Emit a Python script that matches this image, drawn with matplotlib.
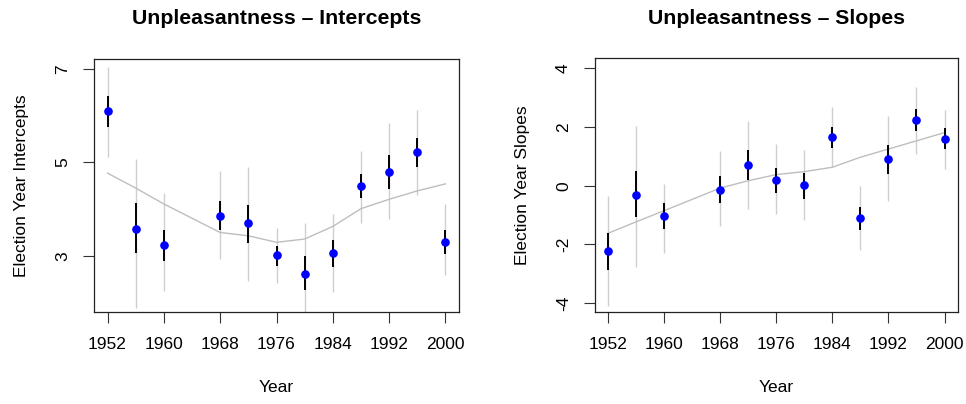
import matplotlib.pyplot as plt

plt.rcParams['font.family'] = ['Liberation Sans', 'DejaVu Sans']

years = [1952, 1956, 1960, 1968, 1972, 1976, 1980, 1984, 1988, 1992, 1996, 2000]
xticks = [1952, 1960, 1968, 1976, 1984, 1992, 2000]

# intercepts: estimate, inner interval, outer interval, smoothed trend
icpt = [6.10, 3.57, 3.24, 3.86, 3.71, 3.01, 2.61, 3.06, 4.50, 4.80, 5.22, 3.30]
icpt_in_lo = [5.75, 3.06, 2.89, 3.55, 3.28, 2.79, 2.26, 2.76, 4.23, 4.43, 4.90, 3.03]
icpt_in_hi = [6.42, 4.13, 3.56, 4.18, 4.09, 3.21, 2.99, 3.35, 4.76, 5.15, 5.53, 3.55]
icpt_out_lo = [5.12, 1.88, 2.24, 2.93, 2.46, 2.42, 1.79, 2.22, 3.71, 3.78, 4.30, 2.59]
icpt_out_hi = [7.04, 5.07, 4.35, 4.82, 4.90, 3.59, 3.70, 3.90, 5.24, 5.84, 6.12, 4.10]
icpt_trend = [4.77, 4.45, 4.11, 3.50, 3.43, 3.29, 3.36, 3.63, 4.01, 4.21, 4.39, 4.54]

# slopes
slope = [-2.22, -0.31, -1.04, -0.14, 0.69, 0.20, 0.01, 1.65, -1.11, 0.90, 2.25, 1.60]
slope_in_lo = [-2.87, -1.08, -1.48, -0.59, 0.20, -0.24, -0.45, 1.28, -1.51, 0.40, 1.87, 1.25]
slope_in_hi = [-1.60, 0.49, -0.60, 0.33, 1.22, 0.60, 0.44, 2.01, -0.72, 1.39, 2.61, 1.98]
slope_out_lo = [-4.10, -2.76, -2.30, -1.37, -0.79, -0.95, -1.16, 0.63, -2.19, -0.51, 1.07, 0.58]
slope_out_hi = [-0.35, 2.03, 0.06, 1.18, 2.19, 1.41, 1.21, 2.67, -0.01, 2.36, 3.35, 2.58]
slope_trend = [-1.62, -1.23, -0.85, -0.08, 0.17, 0.38, 0.48, 0.63, 0.97, 1.25, 1.53, 1.81]

W, H = 966, 404
fig = plt.figure(figsize=(W / 100, H / 100), dpi=100)


def panel(rect, est, in_lo, in_hi, out_lo, out_hi, trend, title, ylabel, yticks, ylim):
    ax = fig.add_axes(rect)
    ax.vlines(years, out_lo, out_hi, color='#cfcfcf', lw=1.0, zorder=1)
    ax.vlines(years, in_lo, in_hi, color='black', lw=1.4, zorder=2)
    ax.plot(years, trend, color='#bebebe', lw=1.0, zorder=1)
    ax.plot(years, est, 'o', color='#0000ff', ms=5.2, zorder=3)
    ax.set_xlim(1950.08, 2001.92)
    ax.set_ylim(*ylim)
    ax.set_xticks(xticks)
    ax.set_yticks(yticks)
    ax.set_yticklabels([str(t) for t in yticks], rotation=90, va='center')
    ax.tick_params(length=8, width=0.8, labelsize=12.5, color='#333333')
    ax.tick_params(axis='x', pad=10)
    ax.tick_params(axis='y', pad=9)
    for s in ax.spines.values():
        s.set_linewidth(0.9)
        s.set_color('#222222')
    ax.set_title(title, fontsize=15.3, fontweight='bold', pad=25)
    ax.set_xlabel('Year', fontsize=12.5, labelpad=20)
    ax.set_ylabel(ylabel, fontsize=12.5, labelpad=19)
    return ax


panel([94 / W, 1 - 312 / H, 365 / W, 253 / H], icpt, icpt_in_lo, icpt_in_hi,
      icpt_out_lo, icpt_out_hi, icpt_trend, 'Unpleasantness \u2013 Intercepts',
      'Election Year Intercepts', [3, 5, 7], (1.80, 7.21))
panel([594.5 / W, 1 - 312.3 / H, 363.5 / W, 254 / H], slope, slope_in_lo, slope_in_hi,
      slope_out_lo, slope_out_hi, slope_trend, 'Unpleasantness \u2013 Slopes',
      'Election Year Slopes', [-4, -2, 0, 2, 4], (-4.31, 4.34))

fig.savefig('out.png', dpi=100)
